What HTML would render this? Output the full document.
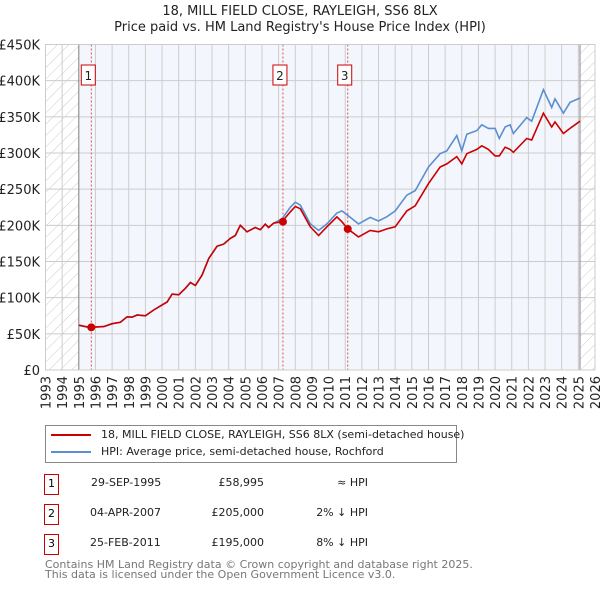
<!DOCTYPE html>
<html><head><meta charset="utf-8">
<style>
body{margin:0;background:#fff;font-family:"DejaVu Sans","Liberation Sans",sans-serif;}
#wrap{position:relative;width:600px;height:590px;overflow:hidden;}
.t{position:absolute;font-size:11px;color:#222;white-space:nowrap;line-height:14px;}
.mb{position:absolute;left:44px;width:13px;height:19px;border:1px solid #cc0000;font-size:11px;text-align:center;line-height:18px;background:#fff}
</style></head>
<body>
<div id="wrap">
<svg id="chart" width="600" height="590" style="position:absolute;left:0;top:0;font-family:'DejaVu Sans','Liberation Sans',sans-serif">
  <defs>
    <pattern id="hatch" width="8" height="8" patternUnits="userSpaceOnUse" patternTransform="rotate(45)">
      <line x1="0" y1="0" x2="0" y2="8" stroke="#ccc" stroke-width="1"/>
    </pattern>
  </defs>
  <text x="300" y="15" text-anchor="middle" font-size="13" fill="#222">18, MILL FIELD CLOSE, RAYLEIGH, SS6 8LX</text>
  <text x="300" y="31" text-anchor="middle" font-size="13" fill="#222">Price paid vs. HM Land Registry's House Price Index (HPI)</text>
  <g id="plot"></g>
</svg>

<div style="position:absolute;left:45px;top:425px;width:410px;height:36px;border:1px solid #888;background:#fff">
  <div style="position:absolute;left:5px;top:8px;width:40px;height:2px;background:#cc0000"></div>
  <div class="t" style="left:55px;top:2px">18, MILL FIELD CLOSE, RAYLEIGH, SS6 8LX (semi-detached house)</div>
  <div style="position:absolute;left:5px;top:25px;width:40px;height:2px;background:#5b8fd0"></div>
  <div class="t" style="left:55px;top:19px">HPI: Average price, semi-detached house, Rochford</div>
</div>

<div>
  <div class="mb" style="top:474px">1</div>
  <div class="t" style="left:91px;top:476px">29-SEP-1995</div>
  <div class="t" style="left:195px;top:476px;width:69px;text-align:right">£58,995</div>
  <div class="t" style="left:298px;top:476px;width:70px;text-align:right">≈ HPI</div>

  <div class="mb" style="top:504px">2</div>
  <div class="t" style="left:90px;top:506px">04-APR-2007</div>
  <div class="t" style="left:195px;top:506px;width:69px;text-align:right">£205,000</div>
  <div class="t" style="left:298px;top:506px;width:70px;text-align:right">2% ↓ HPI</div>

  <div class="mb" style="top:534px">3</div>
  <div class="t" style="left:90px;top:536px">25-FEB-2011</div>
  <div class="t" style="left:195px;top:536px;width:69px;text-align:right">£195,000</div>
  <div class="t" style="left:298px;top:536px;width:70px;text-align:right">8% ↓ HPI</div>
</div>

<div class="t" style="left:45px;top:560px;line-height:10px;color:#777">Contains HM Land Registry data © Crown copyright and database right 2025.<br>This data is licensed under the Open Government Licence v3.0.</div>
</div>

<script>
var years = [1995.0,1995.6,1996.5,1997.0,1997.5,1997.9,1998.2,1998.5,1999.0,1999.5,2000.0,2000.3,2000.6,2001.0,2001.4,2001.7,2002.0,2002.4,2002.8,2003.3,2003.7,2004.1,2004.4,2004.7,2005.1,2005.6,2005.9,2006.2,2006.4,2006.7,2007.2,2007.7,2008.0,2008.3,2008.9,2009.4,2009.9,2010.5,2010.8,2011.15,2011.8,2012.5,2013.0,2013.5,2014.0,2014.7,2015.2,2016.0,2016.7,2017.1,2017.7,2018.0,2018.3,2018.9,2019.2,2019.6,2020.0,2020.25,2020.6,2020.9,2021.1,2021.9,2022.2,2022.9,2023.4,2023.6,2024.1,2024.5,2025.1];
var priceSeries = [62,59,60,64,66,73.6,73,76,75,83,90,94,105,104,113,121,117,131,154,171,174,182,186,200,191,197,194,201.5,197,203,205,218.6,226,223,198,186,198,211.6,205,195,184,193,191,195,198,220,227,257.7,280.7,285,295,285,299,305,310,305,296,296,308,305,301,320,318,355,336,343,327,334,344];
var hpiSeries = [62,59,60,64,66,73.6,73,76,75,83,90,94,105,104,113,121,117,131,154,171,174,182,186,200,191,197,194,201.5,197,203,209,225,232,228,202,193,202,217,220,214,202,211,206,212,220,241.6,248,280.7,299,303,324,303,326,331,339,334,334,320,336,339,327,349,344,387.5,363,375,355,370,376];
var saleYears = [1995.75,2007.26,2011.15];
var salePrices = [59.0,205,195];
var saleLabels = ["1","2","3"];
var yTicks = [0,50,100,150,200,250,300,350,400,450];
var yTickLabels = ["£0","£50K","£100K","£150K","£200K","£250K","£300K","£350K","£400K","£450K"];
var xTicks = [];
for (var yr=1993; yr<=2026; yr++) xTicks.push(yr);

var NS="http://www.w3.org/2000/svg";
var X0=45.5, X1=595, Y0=370, Y1=44.5;
function xs(v){return X0+(v-1993)/(2026-1993)*(X1-X0);}
function ys(v){return Y0-v/450*(Y0-Y1);}
var g=document.getElementById('plot');
function mk(tag,attrs){var e=document.createElementNS(NS,tag);for(var k in attrs)e.setAttribute(k,attrs[k]);g.appendChild(e);return e;}

var r=mk('rect',{x:X0,y:Y1,width:X1-X0,height:Y0-Y1,fill:'url(#hatch)'});


var r2=mk('rect',{x:xs(1995),y:Y1,width:xs(2025.1)-xs(1995),height:Y0-Y1,fill:'#f3f7fd'});



yTicks.forEach(function(v,i){
  var l=mk('line',{x1:X0,x2:X1,y1:ys(v),y2:ys(v),stroke:'#cccccc','stroke-width':1});
  
  
  var t=mk('text',{x:40,y:ys(v)+5,'text-anchor':'end','font-size':13,fill:'#222'});
  t.textContent=yTickLabels[i];
  
  
});
xTicks.forEach(function(v,i){
  var l=mk('line',{x1:xs(v),x2:xs(v),y1:Y1,y2:Y0,stroke:'#cccccc','stroke-width':1});
  
  
  var tx=xs(v)+5, ty=376;
  var t=mk('text',{x:tx,y:ty,'text-anchor':'end','font-size':13,fill:'#222',transform:'rotate(-90 '+tx+' '+ty+')'});
  t.textContent=String(v);
  
  
});
[1995,2025.1].forEach(function(v){
  var l=mk('line',{x1:xs(v),x2:xs(v),y1:Y1,y2:Y0,stroke:'#888','stroke-width':1});
  
  
});

saleYears.forEach(function(v,i){
  var l=mk('line',{x1:xs(v),x2:xs(v),y1:Y1,y2:Y0,stroke:'#e05050','stroke-width':1,'stroke-dasharray':'2,2'});
  
  
  var b=mk('rect',{x:xs(v)-10,y:65,width:14,height:20,fill:'#fff',stroke:'#cc0000','stroke-width':1});
  
  
  var t=mk('text',{x:xs(v)-3,y:80,'text-anchor':'middle','font-size':12,fill:'#222'});
  t.textContent=saleLabels[i];
  
  
});

function pathOf(vals){return years.map(function(y,i){return (i?'L':'M')+xs(y).toFixed(1)+','+ys(vals[i]).toFixed(1);}).join(' ');}
var hp=mk('path',{d:pathOf(hpiSeries),fill:'none',stroke:'#5b8fd0','stroke-width':1.6});


var pp=mk('path',{d:pathOf(priceSeries),fill:'none',stroke:'#cc0000','stroke-width':1.6});



saleYears.forEach(function(v,i){
  var c=mk('circle',{cx:xs(v),cy:ys(salePrices[i]),r:4,fill:'#cc0000'});
  
  
});
var fr=mk('rect',{x:X0,y:Y1,width:X1-X0,height:Y0-Y1,fill:'none',stroke:'#cccccc'});


</script>
</body></html>
